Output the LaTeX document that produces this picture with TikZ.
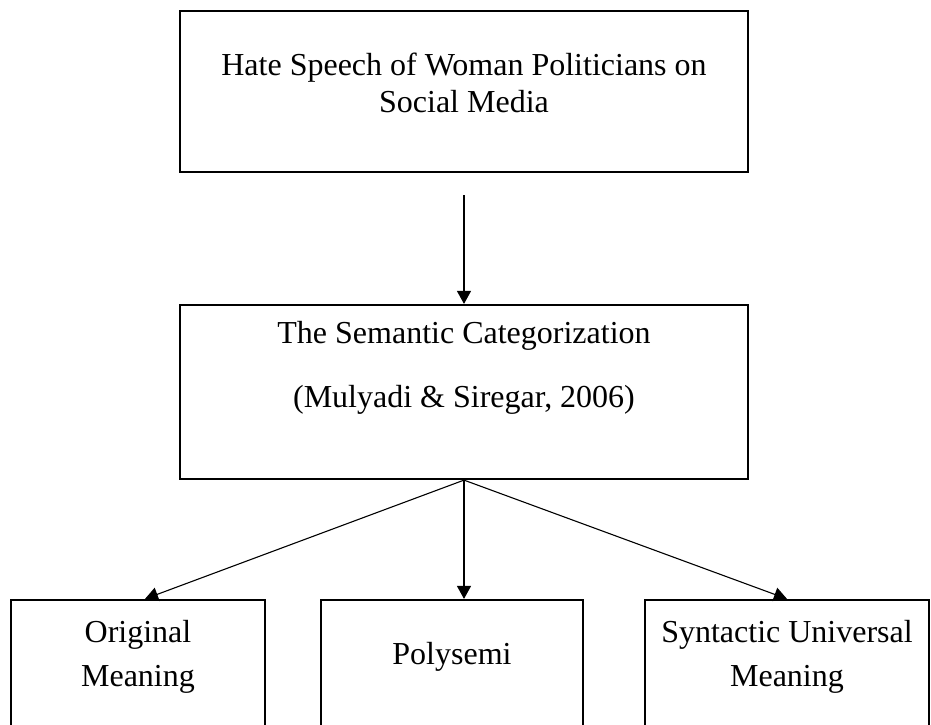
\documentclass[tikz,border=0pt]{standalone}
\usepackage{fontspec}
\setmainfont{Liberation Serif}
\usetikzlibrary{arrows.meta}

\begin{document}
\begin{tikzpicture}[x=1pt,y=-1pt,
  box/.style={draw,line width=2.2pt,inner sep=0pt},
  txt/.style={align=center,font=\fontsize{32}{37}\selectfont,inner sep=0pt},
  arr/.style={line width=1.1pt,-{Triangle[length=13pt,width=14pt]}}]
\useasboundingbox (0,0) rectangle (931,724);
\clip (0,0) rectangle (931,724);

\node[box,minimum width=568pt,minimum height=161pt] (hate) at (464,91.5) {};
\node[txt] (hatetxt) at (464,83) {Hate Speech of Woman Politicians on\\Social Media};

\node[box,minimum width=568pt,minimum height=174pt] (sem) at (464,392) {};
\node[txt] (semtxt) at (464,368) {The Semantic Categorization\\[27pt](Mulyadi \& Siregar, 2006)};

\node[box,minimum width=254pt,minimum height=160pt] (orig) at (138,680) {};
\node[txt] (origtxt) at (138,657) {Original\\[7pt]Meaning};
\node[box,minimum width=262pt,minimum height=160pt] (poly) at (452,680) {};
\node[txt] (polytxt) at (452,657) {Polysemi};
\node[box,minimum width=284pt,minimum height=160pt] (synt) at (787,680) {};
\node[txt] (synttxt) at (787,657) {Syntactic Universal\\[7pt]Meaning};

\draw[arr,shorten <=22pt] (hate.south) -- (sem.north);
\draw[arr] (sem.south) -- ([xshift=7pt]orig.north);
\draw[arr] (sem.south) -- (sem.south |- poly.north);
\draw[arr] (sem.south) -- (synt.north);
\end{tikzpicture}
\end{document}
